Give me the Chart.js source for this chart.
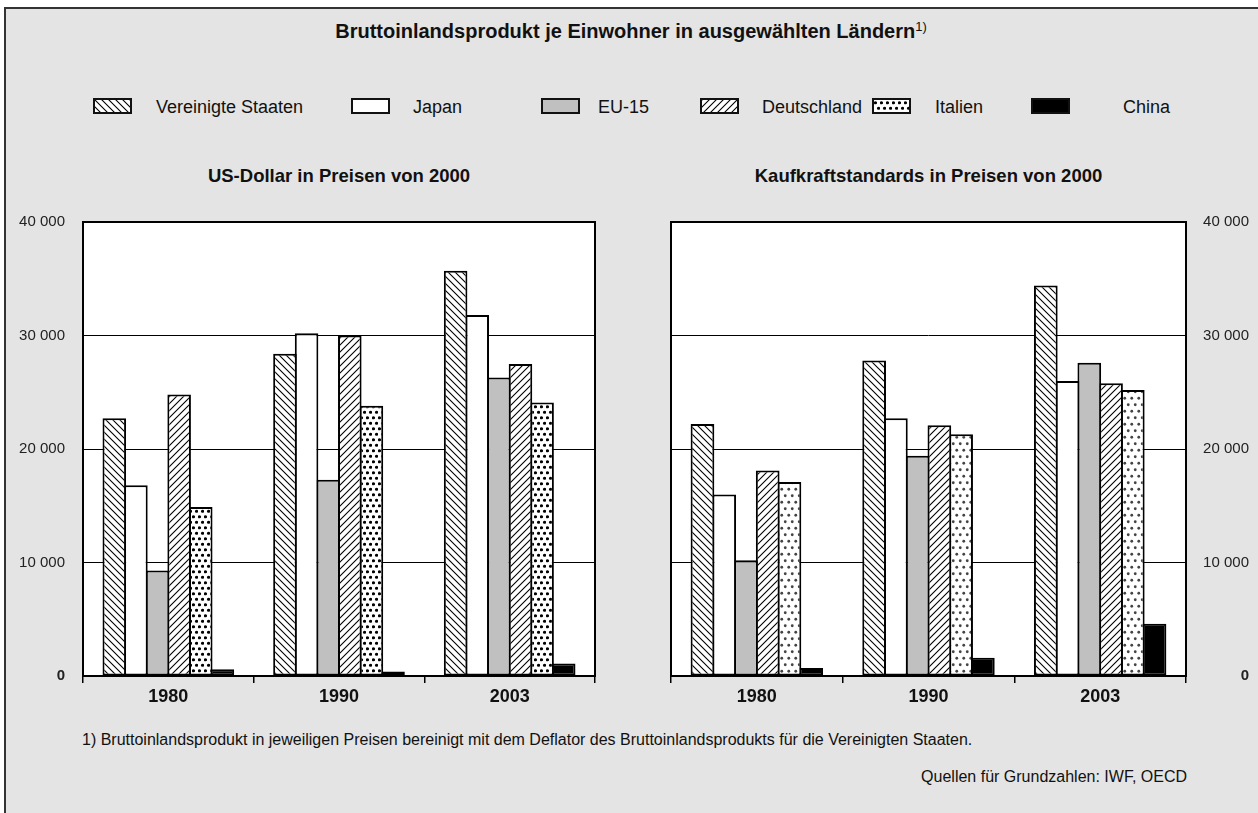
<!DOCTYPE html>
<html lang="de">
  <head>
    <meta charset="UTF-8" />
    <title>Bruttoinlandsprodukt je Einwohner</title>
    <script src="https://cdn.jsdelivr.net/npm/chart.js@4.4.0/dist/chart.umd.min.js"></script>
    <style>
      body { margin: 0; background: #fff; font-family: "Liberation Sans", Arial, sans-serif; color: #111; }
      #page { position: relative; width: 1258px; height: 813px; overflow: hidden; }
      #frame { position: absolute; left: 4px; top: 7px; width: 1300px; height: 900px; background: #e4e4e4;
               border-left: 2px solid #333; border-top: 2px solid #333; }
      .abs { position: absolute; white-space: nowrap; }
      .title { left: 4px; width: 1254px; top: 19px; line-height: 24px; text-align: center; font-weight: bold; font-size: 20px; }
      .title sup { font-size: 13px; font-weight: normal; vertical-align: 7px; line-height: 0; }
      .sub { top: 165px; line-height: 22px; text-align: center; font-weight: bold; font-size: 18.5px; }
      .swatch { top: 98px; width: 39px; height: 16px; box-sizing: border-box; border: 2px solid #111; }
      .legtext { top: 96px; line-height: 22px; font-size: 18px; }
      .note { font-size: 16px; line-height: 20px; }
      .chartbox { position: absolute; }
    </style>
  </head>
  <body>
    <div id="page">
      <div id="frame"></div>
      <div class="abs title">Bruttoinlandsprodukt je Einwohner in ausgewählten Ländern<sup>1)</sup></div>
      <div id="legend"></div>
      <div class="abs sub" style="left:83px;width:512px">US-Dollar in Preisen von 2000</div>
      <div class="abs sub" style="left:671px;width:515px">Kaufkraftstandards in Preisen von 2000</div>
      <div class="chartbox" style="left:0px;top:195px"><canvas id="usd" width="629" height="525"></canvas></div>
      <div class="chartbox" style="left:640px;top:200px"><canvas id="kks" width="618" height="520"></canvas></div>
      <div class="abs note" style="left:82px;top:730px">1) Bruttoinlandsprodukt in jeweiligen Preisen bereinigt mit dem Deflator des Bruttoinlandsprodukts für die Vereinigten Staaten.</div>
      <div class="abs note" style="right:71px;top:767px">Quellen für Grundzahlen: IWF, OECD</div>
    </div>

    <script>
      // data
      const years = ["1980", "1990", "2003"];
      const countries = ["Vereinigte Staaten", "Japan", "EU-15", "Deutschland", "Italien", "China"];
      const yTicks = [0, 10000, 20000, 30000, 40000];

      // US-Dollar in Preisen von 2000
      const usdVereinigteStaaten = [22700, 28400, 35700];
      const usdJapan = [16800, 30200, 31800];
      const usdEU15 = [9300, 17300, 26300];
      const usdDeutschland = [24800, 30000, 27500];
      const usdItalien = [14900, 23800, 24100];
      const usdChina = [600, 400, 1100];

      // Kaufkraftstandards in Preisen von 2000
      const kksVereinigteStaaten = [22200, 27800, 34400];
      const kksJapan = [16000, 22700, 26000];
      const kksEU15 = [10200, 19400, 27600];
      const kksDeutschland = [18100, 22100, 25800];
      const kksItalien = [17100, 21300, 25200];
      const kksChina = [700, 1600, 4600];

      // legend layout (swatch left, text left)
      const legendSwatchX = [93, 351, 541, 700, 872, 1031];
      const legendTextX = [156, 413, 598, 762, 935, 1123];

      Chart.defaults.font.family = '"Liberation Sans", Arial, sans-serif';
      Chart.defaults.color = "#222";

      function hatchTile(dir) {
        const s = 7;
        const c = document.createElement("canvas");
        c.width = s; c.height = s;
        const g = c.getContext("2d");
        g.fillStyle = "#fff";
        g.fillRect(0, 0, s, s);
        g.strokeStyle = "#000";
        g.lineWidth = 1.1;
        g.beginPath();
        if (dir === "back") {
          g.moveTo(-1, -1); g.lineTo(s + 1, s + 1);
          g.moveTo(-1, s - 1); g.lineTo(1, s + 1);
          g.moveTo(s - 1, -1); g.lineTo(s + 1, 1);
        } else {
          g.moveTo(-1, s + 1); g.lineTo(s + 1, -1);
          g.moveTo(-1, 1); g.lineTo(1, -1);
          g.moveTo(s - 1, s + 1); g.lineTo(s + 1, s - 1);
        }
        g.stroke();
        return c;
      }

      function dotTile(w, h, r, col) {
        const c = document.createElement("canvas");
        c.width = w; c.height = h;
        const g = c.getContext("2d");
        g.fillStyle = "#fff";
        g.fillRect(0, 0, w, h);
        g.fillStyle = col;
        [[w / 4, h / 4], [w * 3 / 4, h * 3 / 4]].forEach(p => {
          g.beginPath();
          g.arc(p[0], p[1], r, 0, Math.PI * 2);
          g.fill();
        });
        return c;
      }

      const tiles = {
        back: hatchTile("back"),
        fwd: hatchTile("fwd"),
        dotsDark: dotTile(6, 11, 1.6, "#000"),
        dotsGrey: dotTile(7, 13, 1.4, "#444")
      };

      function fills(ctx, dots) {
        return [
          ctx.createPattern(tiles.back, "repeat"),
          "#ffffff",
          "#c0c0c0",
          ctx.createPattern(tiles.fwd, "repeat"),
          ctx.createPattern(dots, "repeat"),
          "#000000"
        ];
      }

      // legend
      const legendFills = [tiles.back, null, "#c0c0c0", tiles.fwd, tiles.dotsDark, "#000"];
      const legendEl = document.getElementById("legend");
      countries.forEach((name, i) => {
        const sw = document.createElement("div");
        sw.className = "abs swatch";
        sw.style.left = legendSwatchX[i] + "px";
        const f = legendFills[i];
        if (f === null) sw.style.background = "#fff";
        else if (typeof f === "string") sw.style.background = f;
        else sw.style.backgroundImage = "url(" + f.toDataURL() + ")";
        legendEl.appendChild(sw);
        const t = document.createElement("div");
        t.className = "abs legtext";
        t.style.left = legendTextX[i] + "px";
        t.textContent = name;
        legendEl.appendChild(t);
      });

      const plotFrame = {
        id: "plotFrame",
        beforeDraw(chart) {
          const a = chart.chartArea, c = chart.ctx;
          c.save();
          c.fillStyle = "#fff";
          c.fillRect(a.left, a.top, a.right - a.left, a.bottom - a.top);
          c.restore();
        },
        afterDatasetsDraw(chart) {
          const a = chart.chartArea, c = chart.ctx;
          c.save();
          c.strokeStyle = "#000";
          c.lineWidth = 2;
          c.strokeRect(a.left, a.top, a.right - a.left, a.bottom - a.top);
          c.restore();
        }
      };

      function fmt(v) {
        return String(v).replace(/\B(?=(\d{3})+(?!\d))/g, " ");
      }

      function makeChart(id, series, dots, side) {
        const ctx = document.getElementById(id).getContext("2d");
        const colors = fills(ctx, dots);
        const right = side === "right";
        new Chart(ctx, {
          type: "bar",
          data: {
            labels: years,
            datasets: countries.map((name, i) => ({
              label: name,
              data: series[i],
              backgroundColor: colors[i],
              borderColor: "#000",
              borderWidth: 2,
              borderSkipped: false,
              barPercentage: 1.09,
              categoryPercentage: 0.76
            }))
          },
          options: {
            responsive: false,
            animation: false,
            layout: { padding: { top: 22, bottom: 0, left: right ? 31 : 0, right: right ? 9 : 34 } },
            plugins: { legend: { display: false }, tooltip: { enabled: false } },
            scales: {
              x: {
                offset: true,
                border: { display: false },
                grid: { offset: true, drawOnChartArea: false, drawTicks: true, tickLength: 7, color: "#000", lineWidth: 1.5 },
                ticks: { color: "#111", padding: 3, font: { size: 18, weight: "bold" } },
                afterFit(s) { s.height = 44; }
              },
              y: {
                position: side,
                min: yTicks[0],
                max: yTicks[yTicks.length - 1],
                border: { display: false },
                grid: { color: "#000", lineWidth: 1, drawTicks: false },
                afterBuildTicks(s) { s.ticks = yTicks.map(v => ({ value: v })); },
                ticks: {
                  padding: right ? 13 : 18,
                  crossAlign: right ? "far" : "near",
                  color: "#222",
                  callback: v => fmt(v),
                  font: c => ({ size: 15, weight: c.tick && c.tick.value === 0 ? "bold" : "normal" })
                },
                afterFit(s) { s.width = right ? 63 : 83; }
              }
            }
          },
          plugins: [plotFrame]
        });
      }

      makeChart("usd", [usdVereinigteStaaten, usdJapan, usdEU15, usdDeutschland, usdItalien, usdChina], tiles.dotsDark, "left");
      makeChart("kks", [kksVereinigteStaaten, kksJapan, kksEU15, kksDeutschland, kksItalien, kksChina], tiles.dotsGrey, "right");
    </script>
  </body>
</html>
